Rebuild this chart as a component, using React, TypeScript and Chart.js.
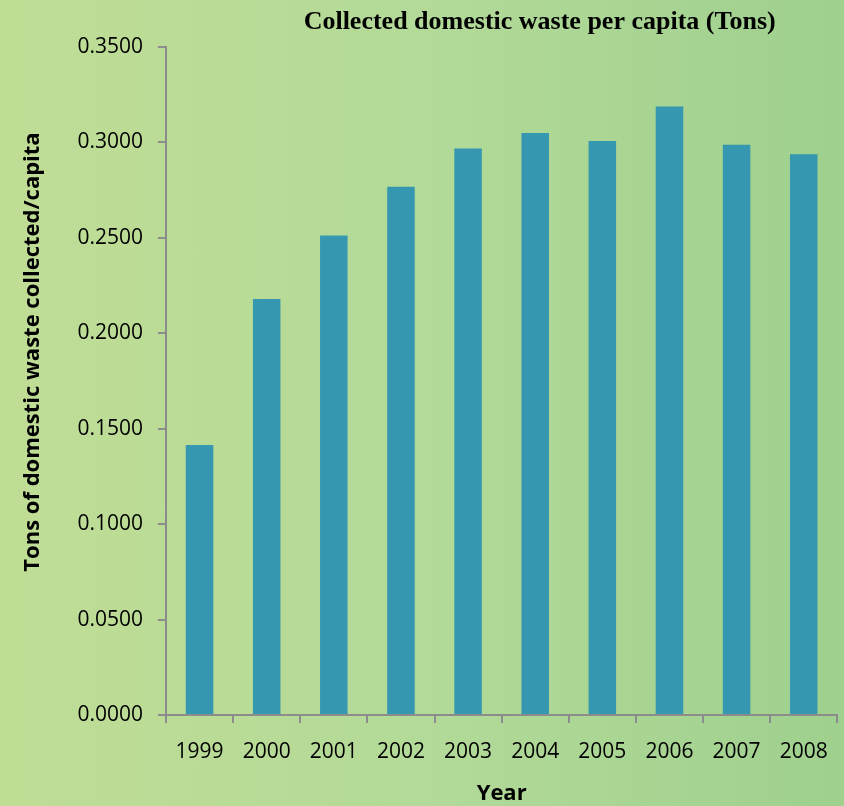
import React, { useEffect, useRef } from "react";
import { Chart, registerables } from "chart.js";

Chart.register(...registerables);

const years = ["1999", "2000", "2001", "2002", "2003", "2004", "2005", "2006", "2007", "2008"];
const wastePerCapita = [0.1415, 0.218, 0.2512, 0.2768, 0.2968, 0.3049, 0.3008, 0.3188, 0.2988, 0.2938];
const yTickValues = [0, 0.05, 0.1, 0.15, 0.2, 0.25, 0.3, 0.35];

const chartTitle = "Collected domestic waste per capita (Tons)";
const yTitle = "Tons of domestic waste collected/capita";
const xTitle = "Year";

const titlesPlugin = {
  id: "customTitles",
  afterDraw(chart: any) {
    const ctx = chart.ctx;
    const area = chart.chartArea;
    ctx.save();
    ctx.fillStyle = "#000";
    ctx.textAlign = "center";
    ctx.textBaseline = "middle";
    ctx.font = "bold 26px 'Liberation Serif', 'Times New Roman', serif";
    ctx.fillText(chartTitle, (area.left + area.right) / 2 + 38, 22);
    ctx.font = "bold 22px 'Open Sans', sans-serif";
    ctx.fillText(xTitle, (area.left + area.right) / 2, 794);
    ctx.translate(33, (area.top + area.bottom) / 2 - 29);
    ctx.rotate(-Math.PI / 2);
    ctx.fillText(yTitle, 0, 0);
    ctx.restore();
  },
};

export default function App() {
  const ref = useRef<HTMLCanvasElement>(null);
  useEffect(() => {
    document.body.style.margin = "0";
    const chart = new Chart(ref.current!, {
      type: "bar",
      data: {
        labels: years,
        datasets: [
          {
            data: wastePerCapita,
            backgroundColor: "#3597b0",
            borderWidth: 0,
            barPercentage: 0.82,
            categoryPercentage: 0.5,
          },
        ],
      },
      options: {
        responsive: false,
        animation: false,
        layout: { padding: { top: 47, right: 5, left: 0, bottom: 0 } },
        plugins: { legend: { display: false }, tooltip: { enabled: false }, title: { display: false } },
        scales: {
          x: {
            offset: true,
            border: { display: true, color: "#8c8c8c", width: 2 },
            grid: { display: true, drawOnChartArea: false, drawTicks: true, tickLength: 8, color: "#8c8c8c", lineWidth: 2, offset: true },
            ticks: { color: "#000", font: { family: "'Open Sans', sans-serif", size: 21 }, padding: 16, maxRotation: 0 },
            afterFit: (scale: any) => {
              scale.height = 91;
            },
          },
          y: {
            min: 0,
            max: 0.35,
            afterBuildTicks: (scale: any) => {
              scale.ticks = yTickValues.map((v) => ({ value: v }));
            },
            border: { display: true, color: "#8c8c8c", width: 2 },
            grid: { display: true, drawOnChartArea: false, drawTicks: true, tickLength: 8, color: "#8c8c8c", lineWidth: 2 },
            ticks: {
              color: "#000",
              font: { family: "'Open Sans', sans-serif", size: 21 },
              padding: 15,
              callback: (v: any) => Number(v).toFixed(4),
            },
            afterFit: (scale: any) => {
              scale.width = 166;
            },
          },
        },
      },
      plugins: [titlesPlugin],
    });
    return () => chart.destroy();
  }, []);
  return (
    <div
      style={{
        position: "absolute",
        left: 0,
        top: 0,
        width: 844,
        height: 806,
        background: "linear-gradient(to right, #c0dd95 0%, #b3da98 50%, #9fd08e 100%)",
      }}
    >
      <canvas ref={ref} width={844} height={806} style={{ display: "block" }} />
    </div>
  );
}
